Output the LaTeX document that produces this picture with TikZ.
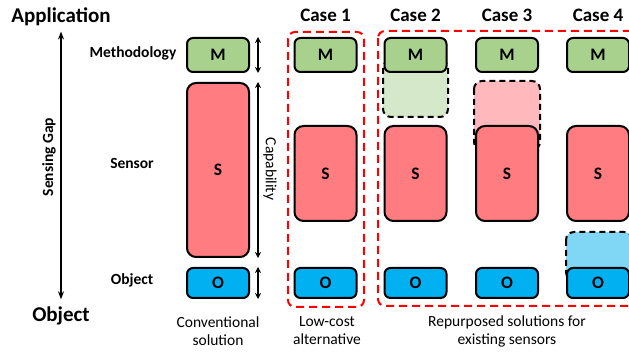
\documentclass[tikz,border=0pt]{standalone}
\usepackage{fontspec}
\setmainfont{Carlito}
\usetikzlibrary{arrows.meta}

\definecolor{mgreen}{HTML}{A9D18E}
\definecolor{sred}{HTML}{FF7C80}
\definecolor{oblue}{HTML}{00B0F0}
\definecolor{lgreen}{HTML}{D5E8C9}
\definecolor{lpink}{HTML}{FFB9BC}
\definecolor{lblue}{HTML}{7FD7F5}

\tikzset{
  blk/.style={draw, line width=2pt, rounded corners=6pt, inner sep=0pt,
    minimum width=62pt, font=\bfseries\fontsize{17.5}{17.5}\selectfont},
  mbox/.style={blk, fill=mgreen, minimum height=34pt},
  sbox/.style={blk, fill=sred, rounded corners=9pt},
  obox/.style={blk, fill=oblue, minimum height=30pt},
  ext/.style={draw, line width=2pt, dash pattern=on 6pt off 4pt, rounded corners=8pt},
  frame/.style={draw=red, line width=2pt, dash pattern=on 8pt off 5pt, rounded corners=7pt},
  dim/.style={line width=1.6pt, {Stealth[length=6pt,width=6pt]}-{Stealth[length=6pt,width=6pt]}},
  title/.style={font=\bfseries\fontsize{19}{19}\selectfont},
  rowlab/.style={font=\bfseries\fontsize{15.5}{15.5}\selectfont},
  foot/.style={align=center, font=\fontsize{15.5}{18}\selectfont}
}

\begin{document}
\begin{tikzpicture}[x=1pt,y=-1pt]
\useasboundingbox (0,0) rectangle (629,352);

% sensing gap axis
\node[font=\bfseries\fontsize{21}{21}\selectfont] (app) at (61,17) {Application};
\node[font=\bfseries\fontsize{21}{21}\selectfont] (obj) at (61,316) {Object};
\draw[line width=1.8pt, {Stealth[length=8pt]}-{Stealth[length=8pt]}, shorten <=2pt, shorten >=4pt] (app.south) -- (obj.north);
\node[rowlab, rotate=90] (gap) at (49,157) {Sensing Gap};

% row labels
\node[rowlab] (lmeth) at (133,53) {Methodology};
\node[rowlab] (lsens) at (132,163) {Sensor};
\node[rowlab] (lobj) at (132,280) {Object};

% conventional solution
\node[mbox] (m0) at (218,55) {M};
\node[sbox, minimum height=174pt] (s0) at (218,170) {S};
\node[obox] (o0) at (218,283) {O};
\draw[dim] ([xshift=8pt]m0.north east) -- ([xshift=8pt]m0.south east);
\draw[dim] ([xshift=8pt]s0.north east) -- ([xshift=8pt]s0.south east);
\draw[dim] ([xshift=8pt]o0.north east) -- ([xshift=8pt]o0.south east);
\node[font=\fontsize{15.5}{15.5}\selectfont, rotate=-90] (cap) at (270,169) {Capability};

% red frames
\draw[frame] (288,32) rectangle (364,307);
\draw[frame] (378,31) rectangle (660,306);

% extended layers (dashed)
\draw[ext, fill=lgreen] (383,60) rectangle (448,117);
\draw[ext, fill=lpink] (474,81) rectangle (540,150);
\draw[ext, fill=lblue] (566,232) rectangle (632,280);

% cases
\foreach \c/\x in {1/325.5,2/415.5,3/507,4/598}{
  \node[title] (case\c) at (\x,15) {Case \c};
  \node[mbox] (m\c) at (\x,55) {M};
  \node[sbox, minimum height=95pt] (s\c) at (\x,173.5) {S};
  \node[obox] (o\c) at (\x,283) {O};
}

% captions
\node[foot] (f0) at (218,331) {Conventional\\solution};
\node[foot] (f1) at (327,331) {Low-cost\\alternative};
\node[foot] (f2) at (507,331) {Repurposed solutions for\\existing sensors};

\end{tikzpicture}
\end{document}
